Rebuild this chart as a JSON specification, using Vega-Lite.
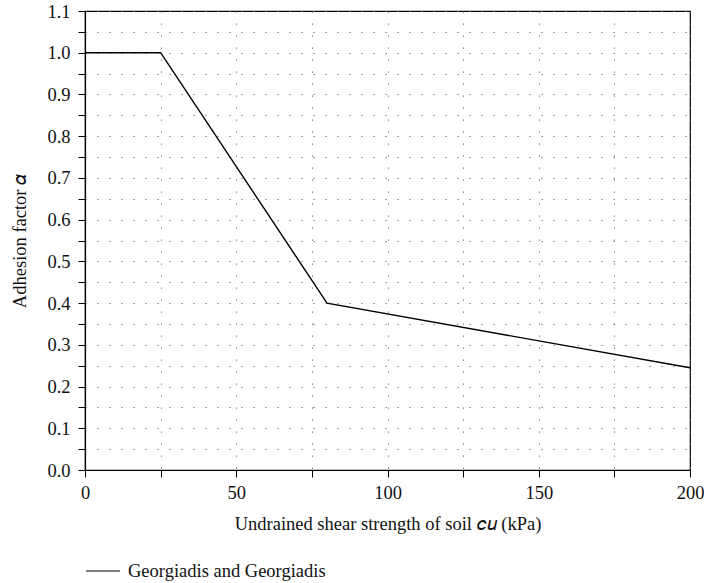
{
  "$schema": "https://vega.github.io/schema/vega-lite/v6.json",
  "width": 605,
  "height": 459,
  "autosize": {"type": "none"},
  "padding": {"left": 85, "top": 11, "right": 14, "bottom": 113},
  "background": "white",
  "data": {
    "values": [
      {"cu": 0, "alpha": 1.0, "series": "Georgiadis and Georgiadis"},
      {"cu": 25, "alpha": 1.0, "series": "Georgiadis and Georgiadis"},
      {"cu": 80, "alpha": 0.4, "series": "Georgiadis and Georgiadis"},
      {"cu": 200, "alpha": 0.245, "series": "Georgiadis and Georgiadis"}
    ]
  },
  "mark": {"type": "line", "strokeWidth": 1.4, "clip": true},
  "encoding": {
    "x": {
      "field": "cu",
      "type": "quantitative",
      "scale": {"domain": [0, 200], "nice": false, "zero": false},
      "axis": {
        "title": "Undrained shear strength of soil 𝑐𝑢 (kPa)",
        "values": [0, 25, 50, 75, 100, 125, 150, 175, 200],
        "labelExpr": "datum.value % 50 === 0 ? datum.label : ''",
        "labelFlush": false,
        "labelPadding": 6,
        "titlePadding": 13
      }
    },
    "y": {
      "field": "alpha",
      "type": "quantitative",
      "scale": {"domain": [0, 1.1], "nice": false},
      "axis": {
        "title": "Adhesion factor 𝛼",
        "values": [0, 0.05, 0.1, 0.15, 0.2, 0.25, 0.3, 0.35, 0.4, 0.45, 0.5, 0.55, 0.6, 0.65, 0.7, 0.75, 0.8, 0.85, 0.9, 0.95, 1, 1.05, 1.1],
        "format": ".1f",
        "labelExpr": "round(datum.value * 100) % 10 === 0 ? datum.label : ''",
        "labelFlush": false,
        "titlePadding": 17
      }
    },
    "color": {
      "field": "series",
      "type": "nominal",
      "scale": {"range": ["black"]},
      "legend": {
        "title": null,
        "orient": "bottom",
        "symbolType": "stroke",
        "symbolSize": 1156,
        "symbolStrokeWidth": 1.2,
        "labelOffset": 7,
        "labelLimit": 500,
        "offset": 20
      }
    }
  },
  "config": {
    "font": "Liberation Serif",
    "view": {"stroke": "black", "strokeWidth": 1.2},
    "axis": {
      "domainColor": "black",
      "domainWidth": 1.2,
      "tickColor": "black",
      "tickSize": 7,
      "tickWidth": 1,
      "labelFont": "Liberation Serif",
      "labelFontSize": 18.5,
      "labelColor": "#111",
      "labelPadding": 8,
      "titleFont": "Liberation Serif",
      "titleFontSize": 18.5,
      "titleFontWeight": "normal",
      "titleColor": "#111",
      "grid": true,
      "gridColor": "#666",
      "gridDash": [1.2, 10.8],
      "gridWidth": 1
    },
    "legend": {
      "labelFont": "Liberation Serif",
      "labelFontSize": 18.5,
      "labelColor": "#111"
    }
  }
}
